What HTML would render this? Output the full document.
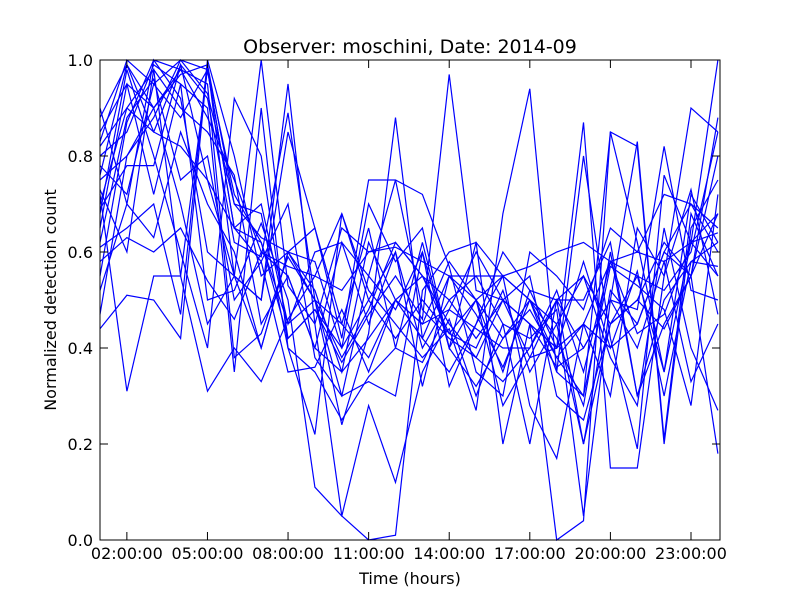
<!DOCTYPE html>
<html><head><meta charset="utf-8"><style>
body{margin:0;background:#fff;}
svg text{font-family:"DejaVu Sans","Liberation Sans",sans-serif;}
</style></head><body>
<svg id="chart" width="800" height="600" viewBox="0 0 800 600" xmlns="http://www.w3.org/2000/svg">
<rect width="800" height="600" fill="#fff"/>
<text x="410" y="53" text-anchor="middle" font-size="19">Observer: moschini, Date: 2014-09</text>
<g id="lines"></g>
<rect x="100" y="60" width="620" height="480" fill="none" stroke="#000" stroke-width="1"/>
<g id="axes"></g>
<text x="410" y="584" text-anchor="middle" font-size="16">Time (hours)</text>
<text transform="translate(56,300) rotate(-90)" text-anchor="middle" font-size="16">Normalized detection count</text>
</svg>
<script>
const hours=[1,2,3,4,5,6,7,8,9,10,11,12,13,14,15,16,17,18,19,20,21,22,23,24];
const xTickHours=[2,5,8,11,14,17,20,23];
const xTickLabels=["02:00:00","05:00:00","08:00:00","11:00:00","14:00:00","17:00:00","20:00:00","23:00:00"];
const yTicks=[0,0.2,0.4,0.6,0.8,1.0];
const yTickLabels=["0.0","0.2","0.4","0.6","0.8","1.0"];
const s1=[0.83,1.0,0.95,1.0,0.98,0.72,0.62,0.45,0.50,0.38,0.48,0.62,0.55,0.43,0.40,0.52,0.35,0.45,0.20,0.52,0.45,0.60,0.55,0.88];
const s2=[0.47,0.80,0.90,0.98,0.88,0.75,0.60,0.55,0.40,0.35,0.42,0.50,0.45,0.58,0.50,0.42,0.48,0.38,0.30,0.85,0.82,0.20,0.65,0.75];
const s3=[0.72,0.31,0.55,0.55,0.98,0.65,0.58,0.70,0.38,0.30,0.55,0.48,0.60,0.32,0.45,0.60,0.52,0.40,0.45,0.58,0.55,0.35,0.72,0.62];
const s4=[0.61,0.65,0.70,0.47,1.0,0.80,0.55,0.60,0.65,0.45,0.38,0.50,0.42,0.55,0.47,0.36,0.50,0.42,0.28,0.60,0.30,0.45,0.55,0.18];
const s5=[0.80,0.85,0.99,0.95,0.90,0.35,0.90,0.40,0.22,0.68,0.50,0.60,0.40,0.50,0.55,0.45,0.20,0.50,0.40,0.50,0.40,0.58,0.33,0.45];
const s6=[0.90,0.70,1.0,0.92,0.60,0.55,0.50,0.95,0.45,0.65,0.60,0.62,0.55,0.45,0.38,0.50,0.55,0.30,0.25,0.45,0.50,0.62,0.55,0.68];
const s7=[0.44,0.51,0.50,0.42,0.99,0.55,0.40,0.60,0.50,0.30,0.33,0.30,0.60,0.40,0.62,0.55,0.50,0.38,0.45,0.40,0.45,0.60,0.70,0.65];
const s8=[0.75,0.80,0.88,1.0,0.93,0.70,0.68,0.40,0.35,0.25,0.34,0.40,0.37,0.48,0.44,0.40,0.40,0.50,0.20,0.45,0.55,0.52,0.60,0.85];
const s9=[0.85,0.95,0.72,0.95,0.50,0.52,0.66,0.50,0.11,0.05,0.28,0.12,0.35,0.46,0.30,0.45,0.42,0.48,0.05,0.50,0.48,0.82,0.52,0.50];
const s10=[0.68,0.98,0.80,0.60,0.40,0.92,0.80,0.42,0.48,0.37,0.47,0.55,0.46,0.97,0.52,0.50,0.45,0.40,0.58,0.40,0.56,0.30,0.58,0.62];
const s11=[0.58,0.63,0.60,0.65,0.54,0.46,0.60,0.57,0.55,0.52,0.60,0.61,0.58,0.55,0.50,0.55,0.57,0.60,0.62,0.58,0.60,0.58,0.62,0.64];
const s12=[0.78,0.72,0.95,0.88,0.98,0.65,0.70,0.45,0.60,0.62,0.55,0.75,0.48,0.42,0.38,0.33,0.40,0.52,0.35,0.58,0.43,0.47,0.62,0.55];
const s13=[0.55,0.87,1.0,0.98,0.95,0.38,0.43,0.59,0.50,0.24,0.43,0.88,0.42,0.35,0.45,0.55,0.28,0.17,0.45,0.30,0.65,0.55,0.73,0.47];
const s14=[0.70,0.90,0.98,0.55,0.31,0.40,0.33,0.46,0.55,0.68,0.52,0.45,0.38,0.44,0.27,0.68,0.94,0.35,0.30,0.57,0.53,0.48,0.28,0.72];
const s15=[0.82,0.90,0.85,0.99,0.75,0.55,1.0,0.53,0.45,0.05,0.00,0.01,0.52,0.60,0.62,0.20,0.45,0.00,0.04,0.85,0.62,0.35,0.62,0.68];
const s16=[0.65,0.95,0.90,0.70,0.45,0.55,0.50,0.85,0.65,0.42,0.75,0.75,0.72,0.57,0.35,0.30,0.60,0.55,0.48,0.65,0.60,0.72,0.70,0.60];
const s17=[0.76,0.99,0.85,0.82,0.75,0.65,0.62,0.42,0.48,0.40,0.70,0.58,0.65,0.40,0.32,0.42,0.50,0.45,0.55,0.38,0.28,0.65,0.40,0.27];
const s18=[0.62,0.88,0.96,0.75,0.80,0.50,0.58,0.35,0.36,0.48,0.35,0.50,0.45,0.48,0.60,0.50,0.38,0.40,0.87,0.15,0.15,0.55,0.90,0.85];
const s19=[0.73,0.60,0.98,0.90,0.85,0.76,0.45,0.55,0.40,0.62,0.45,0.60,0.32,0.55,0.55,0.55,0.50,0.35,0.80,0.42,0.19,0.76,0.62,1.0];
const s20=[0.52,0.70,0.63,0.85,0.70,0.60,0.40,0.60,0.58,0.40,0.50,0.42,0.50,0.43,0.50,0.35,0.52,0.50,0.50,0.62,0.30,0.50,0.58,0.57];
const s21=[0.88,0.99,0.90,0.97,0.99,0.70,0.63,0.60,0.52,0.35,0.62,0.50,0.55,0.50,0.42,0.50,0.45,0.36,0.40,0.50,0.83,0.21,0.68,0.55];
const s22=[0.69,0.78,0.78,0.99,0.92,0.62,0.59,0.89,0.50,0.45,0.65,0.40,0.62,0.40,0.50,0.28,0.38,0.50,0.55,0.45,0.50,0.44,0.55,0.80];
const seriesList=[s1,s2,s3,s4,s5,s6,s7,s8,s9,s10,s11,s12,s13,s14,s15,s16,s17,s18,s19,s20,s21,s22];
const NS="http://www.w3.org/2000/svg";
const X0=100,X1=720,Y0=540,Y1=60;
function xScale(h){return X0+(h-1)/(24.08-1)*(X1-X0);}
function yScale(v){return Y0-v*(Y0-Y1);}
const g=document.getElementById('lines');
seriesList.forEach((s,i)=>{
  const p=document.createElementNS(NS,'polyline');
  p.setAttribute('points',s.map((v,j)=>xScale(hours[j]).toFixed(1)+','+yScale(v).toFixed(1)).join(' '));
  p.setAttribute('fill','none');p.setAttribute('stroke','#0000ff');p.setAttribute('stroke-width','1.2');
  
  
  g.appendChild(p);
});
const ax=document.getElementById('axes');
xTickHours.forEach((h,i)=>{
  const x=xScale(h);
  [[540,532],[60,68]].forEach(([a,b])=>{const l=document.createElementNS(NS,'line');
    l.setAttribute('x1',x);l.setAttribute('x2',x);l.setAttribute('y1',a);l.setAttribute('y2',b);l.setAttribute('stroke','#000');
    
    ax.appendChild(l);});
  const t=document.createElementNS(NS,'text');
  t.setAttribute('x',x);t.setAttribute('y',559);t.setAttribute('text-anchor','middle');t.setAttribute('font-size','16');
  t.textContent=xTickLabels[i];
  
  ax.appendChild(t);
});
yTicks.forEach((v,i)=>{
  const y=yScale(v);
  [[100,108],[720,712]].forEach(([a,b])=>{const l=document.createElementNS(NS,'line');
    l.setAttribute('x1',a);l.setAttribute('x2',b);l.setAttribute('y1',y);l.setAttribute('y2',y);l.setAttribute('stroke','#000');
    
    ax.appendChild(l);});
  const t=document.createElementNS(NS,'text');
  t.setAttribute('x',93);t.setAttribute('y',y+6);t.setAttribute('text-anchor','end');t.setAttribute('font-size','16');
  t.textContent=yTickLabels[i];
  
  ax.appendChild(t);
});
</script>
</body></html>
